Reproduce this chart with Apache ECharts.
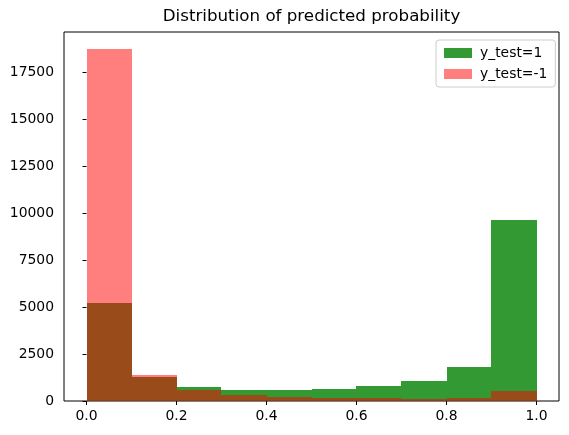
<!DOCTYPE html>
<html>
<head>
<meta charset="utf-8">
<script src="https://cdn.jsdelivr.net/npm/echarts@6/dist/echarts.min.js"></script>
<style>html,body{margin:0;padding:0;background:#fff}#c{width:569px;height:435px}</style>
</head>
<body>
<div id="c"></div>
<script>
const binEdges = [0.0, 0.1, 0.2, 0.3, 0.4, 0.5, 0.6, 0.7, 0.8, 0.9, 1.0];
const positiveCounts = [5230, 1290, 745, 585, 585, 640, 800, 1065, 1825, 9640];
const negativeCounts = [18730, 1385, 585, 320, 213, 175, 175, 107, 175, 532];
const xTicks = [0, 0.2, 0.4, 0.6, 0.8, 1.0];
const yTicks = [0, 2500, 5000, 7500, 10000, 12500, 15000, 17500];
const seriesNames = ['y_test=1', 'y_test=-1'];

function toData(counts) {
  return counts.map((c, i) => [binEdges[i], binEdges[i + 1], c]);
}
function renderBin(params, api) {
  const p0 = api.coord([api.value(0), api.value(2)]);
  const p1 = api.coord([api.value(1), 0]);
  const x0 = Math.round(p0[0]), x1 = Math.round(p1[0]);
  const y0 = Math.round(p0[1]), y1 = Math.round(p1[1]);
  return {
    type: 'rect',
    shape: { x: x0, y: y0, width: x1 - x0, height: y1 - y0 },
    style: api.style()
  };
}
const font = 'DejaVu Sans';
const chart = echarts.init(document.getElementById('c'), null, { renderer: 'canvas' });
chart.setOption({
  animation: false,
  backgroundColor: '#fff',
  textStyle: { fontFamily: font },
  title: {
    text: 'Distribution of predicted probability',
    left: 311.5, textAlign: 'center', top: 8, padding: 0,
    textStyle: { fontFamily: font, fontSize: 16.7, fontWeight: 'normal', color: '#000' }
  },
  legend: {
    orient: 'vertical', left: 436, top: 40,
    padding: [6, 8, 6, 8], itemGap: 7,
    itemWidth: 28, itemHeight: 10,
    borderColor: '#cccccc', borderWidth: 1, borderRadius: 3,
    icon: 'rect',
    textStyle: { fontFamily: font, fontSize: 13.9, color: '#000', padding: [0, 0, 0, 3] },
    data: seriesNames
  },
  grid: { left: 64, right: 10, top: 32, bottom: 34, show: true, borderColor: '#000', borderWidth: 1, backgroundColor: 'transparent' },
  xAxis: {
    type: 'value', min: -0.05, max: 1.05,
    axisLine: { show: false },
    splitLine: { show: false },
    axisTick: { show: true, length: 4, lineStyle: { color: '#000' }, customValues: xTicks },
    axisLabel: { color: '#000', fontSize: 13.9, fontFamily: font, margin: 8, customValues: xTicks,
      formatter: v => v.toFixed(1) }
  },
  yAxis: {
    type: 'value', min: 0, max: 19650,
    axisLine: { show: false },
    splitLine: { show: false },
    axisTick: { show: true, length: 4, lineStyle: { color: '#000' }, customValues: yTicks },
    axisLabel: { color: '#000', fontSize: 13.9, fontFamily: font, margin: 10, customValues: yTicks,
      formatter: v => String(v) }
  },
  series: [
    {
      name: seriesNames[0], type: 'custom', renderItem: renderBin,
      itemStyle: { color: 'rgba(0,128,0,0.8)' },
      encode: { x: [0, 1], y: 2 },
      data: toData(positiveCounts)
    },
    {
      name: seriesNames[1], type: 'custom', renderItem: renderBin,
      itemStyle: { color: 'rgba(255,0,0,0.5)' },
      encode: { x: [0, 1], y: 2 },
      data: toData(negativeCounts)
    }
  ]
});
</script>
</body>
</html>
